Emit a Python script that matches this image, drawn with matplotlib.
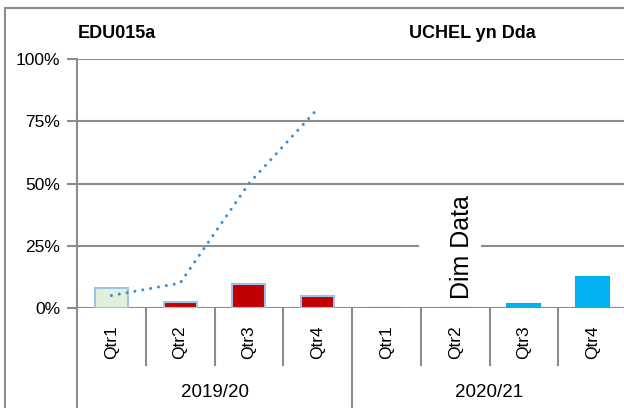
import matplotlib
matplotlib.use('Agg')
import matplotlib.pyplot as plt
from matplotlib.patches import Rectangle
import matplotlib.transforms as mtransforms

plt.rcParams['font.family'] = ['Liberation Sans', 'DejaVu Sans']

quarters = ['Qtr1', 'Qtr2', 'Qtr3', 'Qtr4', 'Qtr1', 'Qtr2', 'Qtr3', 'Qtr4']
years = ['2019/20', '2020/21']
bar_values = [0.08, 0.024, 0.096, 0.048, 0.0, 0.0, 0.016, 0.124]
bar_colors = ['#e2efda', '#c00000', '#c00000', '#c00000', '#00b0f0', '#00b0f0', '#00b0f0', '#00b0f0']
bar_edges = ['#9dc3e6', '#9dc3e6', '#9dc3e6', '#9dc3e6', '#00b0f0', '#00b0f0', '#00b0f0', '#00b0f0']
trend_x = [0, 1, 2, 3]
trend_values = [0.05, 0.10, 0.50, 0.80]
yticks = [0, 0.25, 0.5, 0.75, 1.0]
ytick_labels = ['0%', '25%', '50%', '75%', '100%']

W, H = 624, 408
fig = plt.figure(figsize=(W / 100, H / 100), dpi=100)

# outer chart frame (cropped on right and bottom)
fig.patches.append(Rectangle((5 / W, -0.1), 1.2, (408 - 8) / H + 0.1,
                             transform=fig.transFigure, fill=False,
                             edgecolor='#8c8c8c', linewidth=1.5))

ax = fig.add_axes([77 / W, (408 - 308) / H, 550 / W, 249 / H])
ax.set_xlim(-0.5, 7.5)
ax.set_ylim(0, 1)

grid_c = '#8c8c8c'
for y in yticks:
    ax.axhline(y, color=grid_c, linewidth=1.5, zorder=1)

ax.bar(range(len(bar_values)), bar_values, width=0.48, color=bar_colors,
       edgecolor=bar_edges, linewidth=1.5, zorder=3)

ax.plot(trend_x, trend_values, color='#3a8fd5', linewidth=2.2,
        linestyle=(0, (0.01, 2.6)), dash_capstyle='round', zorder=4)

for s in ['top', 'right', 'bottom']:
    ax.spines[s].set_visible(False)
ax.spines['left'].set_color(grid_c)
ax.spines['left'].set_linewidth(1.5)
ax.spines['left'].set_bounds(-0.45, 1)

ax.set_yticks(yticks)
ax.set_yticklabels(ytick_labels, fontsize=12.5)
ax.tick_params(axis='y', length=7, width=1.5, color=grid_c, pad=5)
ax.set_xticks([])

trans = mtransforms.blended_transform_factory(ax.transData, ax.transAxes)
# category separators
for i in range(1, 8):
    low = -0.40 if i == 4 else -0.229
    ax.plot([i - 0.5, i - 0.5], [0, low], color=grid_c, linewidth=1.5,
            transform=trans, clip_on=False)

for i, q in enumerate(quarters):
    ax.text(i, -0.137, q, rotation=90, ha='center', va='center',
            fontsize=12.5, transform=trans)

for g, yr in enumerate(years):
    ax.text(g * 4 + 1.5, -0.341, yr, ha='center', va='center',
            fontsize=13.5, transform=trans)

# white label box behind "Dim Data"
ax.add_patch(Rectangle((4.47, 0.06), 0.9, 0.38, facecolor='white',
                       edgecolor='none', zorder=2))
ax.text(5.1, 0.245, 'Dim Data', rotation=90, ha='center', va='center',
        fontsize=18, zorder=5)

fig.text(78 / W, 1 - 33 / H, 'EDU015a', fontsize=13, fontweight='bold',
         ha='left', va='center')
fig.text(472 / W, 1 - 33 / H, 'UCHEL yn Dda', fontsize=13, fontweight='bold',
         ha='center', va='center')

fig.savefig('out.png', dpi=100)
